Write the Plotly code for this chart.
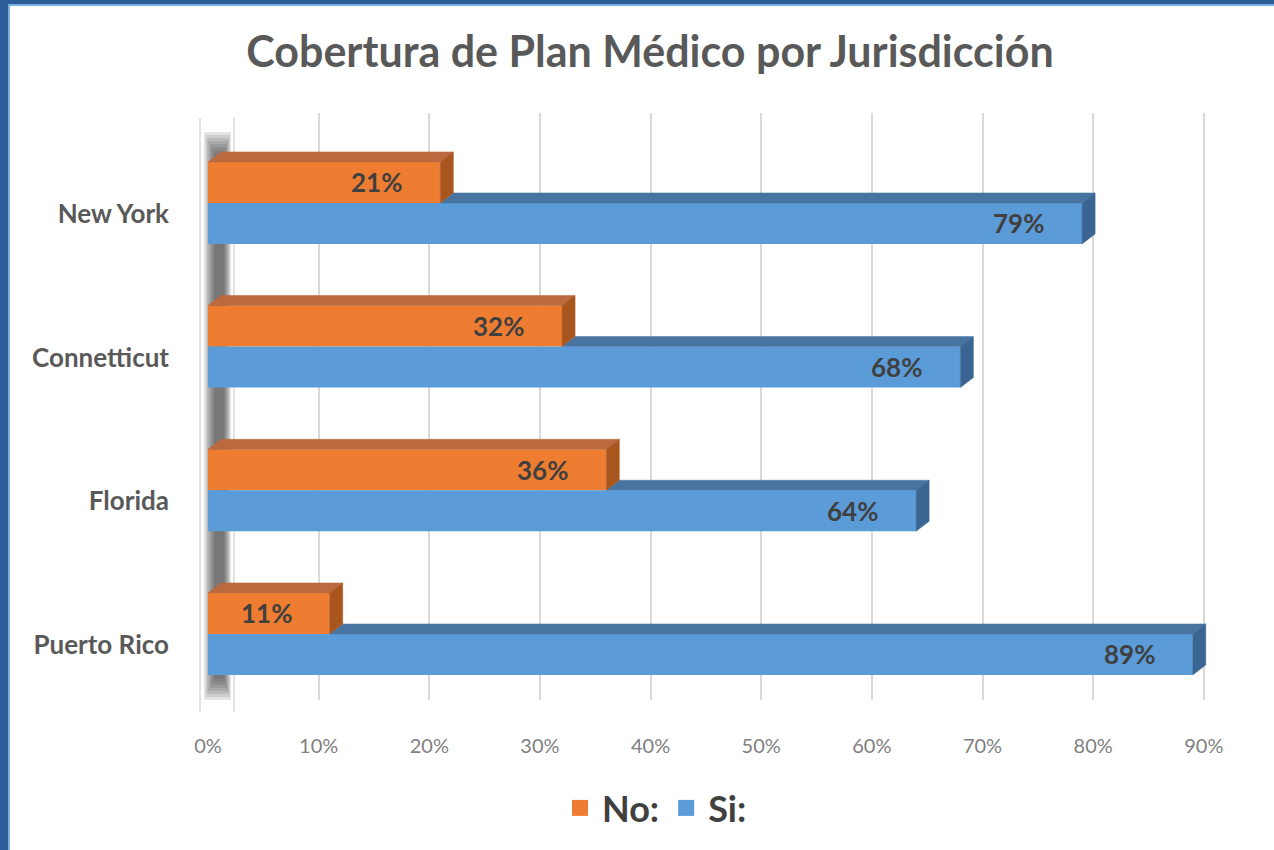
import plotly.graph_objects as go

# ---------------- data ----------------
categories = ["Puerto Rico", "Florida", "Connetticut", "New York"]
no_values = [0.11, 0.36, 0.32, 0.21]
si_values = [0.89, 0.64, 0.68, 0.79]
tick_values = [0, 0.1, 0.2, 0.3, 0.4, 0.5, 0.6, 0.7, 0.8, 0.9]
tick_labels = ["0%", "10%", "20%", "30%", "40%", "50%", "60%", "70%", "80%", "90%"]
series_names = ["No:", "Si:"]

# ---------------- layout geometry ----------------
W, H = 1274, 850
ML, MR, MT, MB = 208, 37, 113, 150
XMAX = 0.93
YMIN, YMAX = -0.46, 3.626
pw = W - ML - MR
ph = H - MT - MB
pxx = pw / XMAX
pxy = ph / (YMAX - YMIN)
BW = 41 / pxy          # bar thickness in category units
DX = 13 / pxx          # pseudo-3D depth offset (x)
DY = 10 / pxy          # pseudo-3D depth offset (y)

pos = list(range(len(categories)))

ORANGE = "#EF7D31"
ORANGE_TOP = "#BB693F"
ORANGE_SIDE = "#A9551E"
BLUE = "#5B9BD8"
BLUE_TOP = "#4874A2"
BLUE_SIDE = "#3A6592"
TXT = "#404040"
FONT = "Lato"

fig = go.Figure()

# front faces
fig.add_trace(go.Bar(
    y=pos, x=no_values, orientation="h", name=series_names[0],
    width=BW, offset=0, marker=dict(color=ORANGE, line=dict(width=0)),
    hoverinfo="skip", showlegend=False))
fig.add_trace(go.Bar(
    y=pos, x=si_values, orientation="h", name=series_names[1],
    width=BW, offset=-BW, marker=dict(color=BLUE, line=dict(width=0)),
    hoverinfo="skip", showlegend=False))


def poly_trace(xs, ys, color):
    return go.Scatter(x=xs, y=ys, mode="lines", fill="toself", fillcolor=color,
                      line=dict(color=color, width=0.5), showlegend=False,
                      hoverinfo="skip")


# blue top faces (visible part, starting behind the orange bar end)
bx, by = [], []
for c, vo, vb in zip(pos, no_values, si_values):
    start = min(vo, vb)
    bx += [start, vb, vb + DX, start + DX, start, None]
    by += [c, c, c + DY, c + DY, c, None]
fig.add_trace(poly_trace(bx, by, BLUE_TOP))

# blue side faces
sx, sy = [], []
for c, vb in zip(pos, si_values):
    sx += [vb, vb + DX, vb + DX, vb, vb, None]
    sy += [c - BW, c - BW + DY, c + DY, c, c - BW, None]
fig.add_trace(poly_trace(sx, sy, BLUE_SIDE))

# orange top faces
ox, oy = [], []
for c, vo in zip(pos, no_values):
    ox += [0, vo, vo + DX, DX, 0, None]
    oy += [c + BW, c + BW, c + BW + DY, c + BW + DY, c + BW, None]
fig.add_trace(poly_trace(ox, oy, ORANGE_TOP))

# orange side faces
osx, osy = [], []
for c, vo in zip(pos, no_values):
    osx += [vo, vo + DX, vo + DX, vo, vo, None]
    osy += [c, c + DY, c + BW + DY, c + BW, c, None]
fig.add_trace(poly_trace(osx, osy, ORANGE_SIDE))

# legend entries (larger square swatches)
for name, col in zip(series_names, [ORANGE, BLUE]):
    fig.add_trace(go.Scatter(x=[None], y=[None], mode="markers", name=name,
                             marker=dict(symbol="square", size=16, color=col),
                             hoverinfo="skip"))

# data labels
annotations = []
for c, vo, vb in zip(pos, no_values, si_values):
    annotations.append(dict(x=vo, y=c + BW / 2, xref="x", yref="y",
                            text=f"{round(vo * 100)}%", showarrow=False,
                            xanchor="right", yanchor="middle", xshift=-36,
                            font=dict(family=FONT, size=26, color=TXT, weight=700)))
    annotations.append(dict(x=vb, y=c - BW / 2, xref="x", yref="y",
                            text=f"{round(vb * 100)}%", showarrow=False,
                            xanchor="right", yanchor="middle", xshift=-36,
                            font=dict(family=FONT, size=26, color=TXT, weight=700)))


# helpers for paper coordinates of decorations
def px_to_paper_x(px):
    return (px - ML) / pw


def py_to_paper_y(py):
    return (H - MB - py) / ph


shapes = []
# left wall outline
for xw in (200, 234):
    shapes.append(dict(type="line", xref="paper", yref="paper",
                       x0=px_to_paper_x(xw), x1=px_to_paper_x(xw),
                       y0=py_to_paper_y(712), y1=py_to_paper_y(118),
                       line=dict(color="#D9D9D9", width=1.5), layer="below"))
# left wall shadow (approximate soft gradient)
for k in range(8):
    x0 = 204 + 1.5 * k
    x1 = 231 - 1.0 * k
    shapes.append(dict(type="rect", xref="paper", yref="paper",
                       x0=px_to_paper_x(x0), x1=px_to_paper_x(x1),
                       y0=py_to_paper_y(700 - 3 * k), y1=py_to_paper_y(132 + 3 * k),
                       fillcolor="#333333", opacity=0.13, line=dict(width=0),
                       layer="below"))
# frame (top and left blue strips)
shapes.append(dict(type="rect", xref="paper", yref="paper",
                   x0=px_to_paper_x(0), x1=px_to_paper_x(W),
                   y0=py_to_paper_y(6), y1=py_to_paper_y(0),
                   fillcolor="#7AAEDF", line=dict(width=0), layer="above"))
shapes.append(dict(type="rect", xref="paper", yref="paper",
                   x0=px_to_paper_x(0), x1=px_to_paper_x(10),
                   y0=py_to_paper_y(H), y1=py_to_paper_y(0),
                   fillcolor="#7AAEDF", line=dict(width=0), layer="above"))
shapes.append(dict(type="rect", xref="paper", yref="paper",
                   x0=px_to_paper_x(0), x1=px_to_paper_x(W),
                   y0=py_to_paper_y(4), y1=py_to_paper_y(0),
                   fillcolor="#2B5E97", line=dict(width=0), layer="above"))
shapes.append(dict(type="rect", xref="paper", yref="paper",
                   x0=px_to_paper_x(0), x1=px_to_paper_x(8),
                   y0=py_to_paper_y(H), y1=py_to_paper_y(0),
                   fillcolor="#2B5E97", line=dict(width=0), layer="above"))

fig.update_layout(
    width=W, height=H,
    margin=dict(l=ML, r=MR, t=MT, b=MB, autoexpand=False),
    paper_bgcolor="white", plot_bgcolor="rgba(0,0,0,0)",
    barmode="overlay",
    title=dict(text="Cobertura de Plan Médico por Jurisdicción",
               x=650 / W, xref="container", xanchor="center",
               y=1 - 52 / H, yref="container", yanchor="middle",
               font=dict(family=FONT, size=43, color="#595959", weight=700)),
    xaxis=dict(range=[0, XMAX], tickvals=tick_values, ticktext=tick_labels,
               showgrid=True, gridcolor="#D9D9D9", gridwidth=1.5,
               zeroline=False, showline=False, ticks="",
               ticklabelstandoff=32,
               tickfont=dict(family=FONT, size=20, color="#7F7F7F")),
    yaxis=dict(range=[YMIN, YMAX], tickvals=pos, ticktext=categories,
               showgrid=False, zeroline=False, showline=False, ticks="",
               ticklabelstandoff=38, ticklabelshift=11,
               tickfont=dict(family=FONT, size=26, color="#595959", weight=700)),
    legend=dict(orientation="h", x=655 / W, xref="container", xanchor="center",
                y=1 - 808 / H, yref="container", yanchor="middle",
                font=dict(family=FONT, size=36, color=TXT, weight=700),
                itemwidth=34, traceorder="normal", itemsizing="trace"),
    annotations=annotations,
    shapes=shapes,
)

fig.write_html("out.html",
               config={"displayModeBar": False},
               post_script="document.body.style.margin='0';document.body.style.overflow='hidden';")
